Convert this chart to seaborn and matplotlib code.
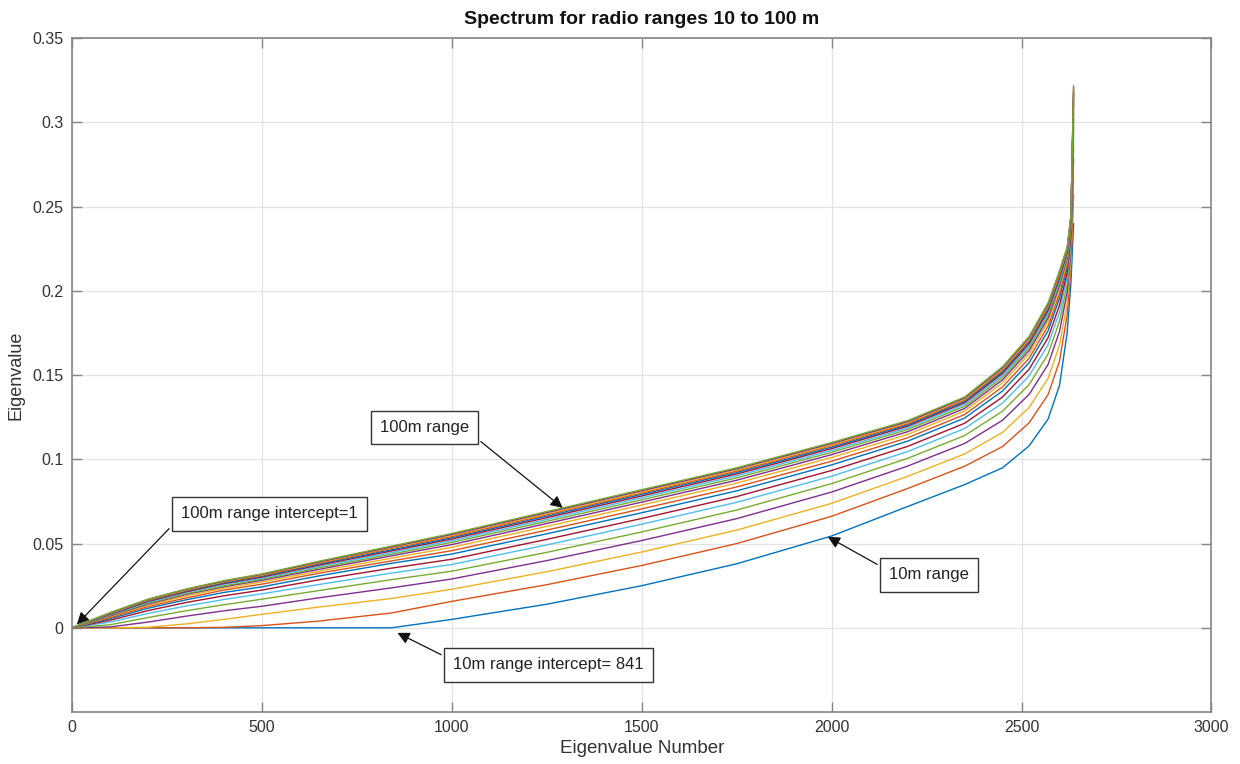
import matplotlib
matplotlib.use("Agg")
import matplotlib.pyplot as plt
import seaborn as sns
import pandas as pd

# ---- data ----
eig_num = [0, 100, 200, 300, 400, 500, 650, 841, 1000, 1250, 1500, 1750, 2000,
           2200, 2350, 2450, 2520, 2570, 2600, 2620, 2630, 2637]
ranges = [10, 15, 20, 25, 30, 35, 40, 45, 50, 55, 60, 65, 70, 75, 80, 85, 90, 95, 100]

y_10 = [0, 0, 0, 0, 0, 0, 0, 0, 0.005, 0.014, 0.025, 0.038, 0.0545, 0.072, 0.085, 0.095, 0.108, 0.124, 0.144, 0.175, 0.205, 0.240]
y_15 = [0, 0, 0, 0, 0.0003, 0.0013, 0.0040, 0.0088, 0.0157, 0.0256, 0.0370, 0.0500, 0.0662, 0.0827, 0.0959, 0.1076, 0.1217, 0.1385, 0.1583, 0.1857, 0.2134, 0.2572]
y_20 = [0, 0, 0.0003, 0.0023, 0.0050, 0.0080, 0.0123, 0.0174, 0.0229, 0.0333, 0.0450, 0.0580, 0.0739, 0.0899, 0.1032, 0.1160, 0.1308, 0.1482, 0.1678, 0.1929, 0.2190, 0.2687]
y_25 = [0, 0.0005, 0.0034, 0.0069, 0.0101, 0.0128, 0.0178, 0.0237, 0.0290, 0.0399, 0.0518, 0.0648, 0.0806, 0.0960, 0.1094, 0.1232, 0.1386, 0.1564, 0.1760, 0.1990, 0.2238, 0.2785]
y_30 = [0, 0.0018, 0.0061, 0.0101, 0.0137, 0.0170, 0.0221, 0.0286, 0.0336, 0.0448, 0.0569, 0.0699, 0.0856, 0.1006, 0.1141, 0.1286, 0.1444, 0.1626, 0.1821, 0.2036, 0.2274, 0.2859]
y_35 = [0, 0.0034, 0.0085, 0.0129, 0.0168, 0.0202, 0.0257, 0.0325, 0.0376, 0.0492, 0.0615, 0.0745, 0.0900, 0.1046, 0.1183, 0.1334, 0.1496, 0.1682, 0.1875, 0.2076, 0.2306, 0.2925]
y_40 = [0, 0.0045, 0.0102, 0.0150, 0.0190, 0.0224, 0.0285, 0.0354, 0.0407, 0.0525, 0.0649, 0.0779, 0.0934, 0.1077, 0.1214, 0.1370, 0.1535, 0.1723, 0.1916, 0.2107, 0.2330, 0.2974]
y_45 = [0, 0.0054, 0.0116, 0.0166, 0.0210, 0.0243, 0.0308, 0.0383, 0.0438, 0.0558, 0.0683, 0.0813, 0.0967, 0.1108, 0.1245, 0.1406, 0.1574, 0.1764, 0.1957, 0.2138, 0.2354, 0.3023]
y_50 = [0, 0.0060, 0.0126, 0.0177, 0.0224, 0.0259, 0.0324, 0.0397, 0.0458, 0.0580, 0.0706, 0.0836, 0.0989, 0.1128, 0.1266, 0.1430, 0.1600, 0.1792, 0.1984, 0.2158, 0.2370, 0.3056]
y_55 = [0, 0.0066, 0.0134, 0.0189, 0.0235, 0.0272, 0.0336, 0.0413, 0.0478, 0.0602, 0.0729, 0.0859, 0.1011, 0.1148, 0.1287, 0.1454, 0.1626, 0.1820, 0.2011, 0.2178, 0.2386, 0.3089]
y_60 = [0, 0.0070, 0.0141, 0.0198, 0.0244, 0.0282, 0.0347, 0.0427, 0.0494, 0.0619, 0.0746, 0.0876, 0.1028, 0.1164, 0.1302, 0.1472, 0.1646, 0.1840, 0.2032, 0.2194, 0.2398, 0.3113]
y_65 = [0, 0.0074, 0.0146, 0.0202, 0.0249, 0.0288, 0.0356, 0.0437, 0.0507, 0.0632, 0.0760, 0.0890, 0.1042, 0.1177, 0.1315, 0.1487, 0.1662, 0.1858, 0.2049, 0.2207, 0.2408, 0.3134]
y_70 = [0, 0.0077, 0.0151, 0.0209, 0.0258, 0.0294, 0.0364, 0.0446, 0.0517, 0.0643, 0.0772, 0.0902, 0.1053, 0.1187, 0.1326, 0.1499, 0.1675, 0.1871, 0.2062, 0.2217, 0.2416, 0.3150]
y_75 = [0, 0.0080, 0.0156, 0.0214, 0.0263, 0.0301, 0.0372, 0.0456, 0.0527, 0.0654, 0.0783, 0.0913, 0.1064, 0.1197, 0.1336, 0.1511, 0.1688, 0.1885, 0.2076, 0.2227, 0.2424, 0.3167]
y_80 = [0, 0.0083, 0.0160, 0.0219, 0.0267, 0.0306, 0.0378, 0.0463, 0.0535, 0.0663, 0.0792, 0.0922, 0.1072, 0.1205, 0.1344, 0.1520, 0.1698, 0.1896, 0.2086, 0.2235, 0.2430, 0.3179]
y_85 = [0, 0.0085, 0.0163, 0.0222, 0.0272, 0.0310, 0.0383, 0.0471, 0.0542, 0.0671, 0.0800, 0.0930, 0.1081, 0.1212, 0.1352, 0.1529, 0.1707, 0.1906, 0.2096, 0.2242, 0.2436, 0.3191]
y_90 = [0, 0.0086, 0.0166, 0.0225, 0.0274, 0.0314, 0.0387, 0.0476, 0.0548, 0.0677, 0.0807, 0.0937, 0.1087, 0.1218, 0.1358, 0.1536, 0.1715, 0.1914, 0.2104, 0.2248, 0.2441, 0.3201]
y_95 = [0, 0.0088, 0.0168, 0.0228, 0.0277, 0.0317, 0.0391, 0.0480, 0.0554, 0.0684, 0.0814, 0.0944, 0.1094, 0.1224, 0.1364, 0.1543, 0.1723, 0.1922, 0.2113, 0.2254, 0.2446, 0.3211]
y_100 = [0, 0.0090, 0.0170, 0.0230, 0.0280, 0.0320, 0.0395, 0.0485, 0.056, 0.069, 0.082, 0.095, 0.110, 0.123, 0.137, 0.155, 0.173, 0.193, 0.212, 0.226, 0.245, 0.322]

series = [y_10, y_15, y_20, y_25, y_30, y_35, y_40, y_45, y_50, y_55,
          y_60, y_65, y_70, y_75, y_80, y_85, y_90, y_95, y_100]

x_ticks = [0, 500, 1000, 1500, 2000, 2500, 3000]
y_ticks = [0, 0.05, 0.1, 0.15, 0.2, 0.25, 0.3, 0.35]
y_tick_labels = ["0", "0.05", "0.1", "0.15", "0.2", "0.25", "0.3", "0.35"]

# ---- long-form table ----
rows = []
for r, ys in zip(ranges, series):
    for x, y in zip(eig_num, ys):
        rows.append({"Eigenvalue Number": x, "Eigenvalue": y, "range": r})
df = pd.DataFrame(rows)

matlab_cycle = ["#0072BD", "#D95319", "#EDB120", "#7E2F8E", "#77AC30", "#4DBEEE", "#A2142F"]
palette = [matlab_cycle[i % 7] for i in range(len(ranges))]

sns.set_theme(style="white")
plt.rcParams["font.family"] = ["Liberation Sans", "DejaVu Sans"]

fig = plt.figure(figsize=(12.4, 7.64), dpi=100)
ax = fig.add_axes([0.058, 0.068, 0.919, 0.882])

sns.lineplot(data=df, x="Eigenvalue Number", y="Eigenvalue", hue="range",
             palette=palette, linewidth=1.0, legend=False, ax=ax, sort=True,
             estimator=None)

ax.set_xlim(0, 3000)
ax.set_ylim(-0.05, 0.35)
ax.set_xticks(x_ticks)
ax.set_xticklabels([str(t) for t in x_ticks])
ax.set_yticks(y_ticks)
ax.set_yticklabels(y_tick_labels)

ax.grid(True, color="#e3e3e3", linewidth=0.9)
ax.set_axisbelow(True)
for sp in ax.spines.values():
    sp.set_visible(True)
    sp.set_color("#858585")
    sp.set_linewidth(1.2)
ax.tick_params(direction="in", length=7, width=1.0, color="#858585",
               labelsize=11.5, labelcolor="#333333",
               top=True, right=True, bottom=True, left=True, pad=6)

ax.set_xlabel("Eigenvalue Number", fontsize=13.5, color="#333333", labelpad=3)
ax.set_ylabel("Eigenvalue", fontsize=13, color="#333333", labelpad=6)
ax.set_title("Spectrum for radio ranges 10 to 100 m", fontsize=14,
             fontweight="bold", color="#111111", pad=10)

box = dict(boxstyle="square,pad=0.55", fc="white", ec="#333333", lw=1.0)

def arrow(rel):
    return dict(arrowstyle="-|>", color="#111111", lw=0.9, mutation_scale=18,
                shrinkA=2, shrinkB=0, relpos=rel)

ax.annotate("100m range", xy=(1292, 0.0712), xytext=(928, 0.119),
            fontsize=12, color="#222222", ha="center", va="center",
            bbox=box, arrowprops=arrow((1.05, -0.05)))
ax.annotate("100m range intercept=1", xy=(13, 0.002), xytext=(519, 0.0676),
            fontsize=12, color="#222222", ha="center", va="center",
            bbox=box, arrowprops=arrow((-0.01, 0.2)))
ax.annotate("10m range", xy=(1990, 0.054), xytext=(2257, 0.0314),
            fontsize=12, color="#222222", ha="center", va="center",
            bbox=box, arrowprops=arrow((-0.05, 0.9)))
ax.annotate("10m range intercept= 841", xy=(857, -0.003), xytext=(1255, -0.022),
            fontsize=12, color="#222222", ha="center", va="center",
            bbox=box, arrowprops=arrow((-0.02, 0.9)))

fig.savefig("out.png", dpi=100, facecolor="white")
